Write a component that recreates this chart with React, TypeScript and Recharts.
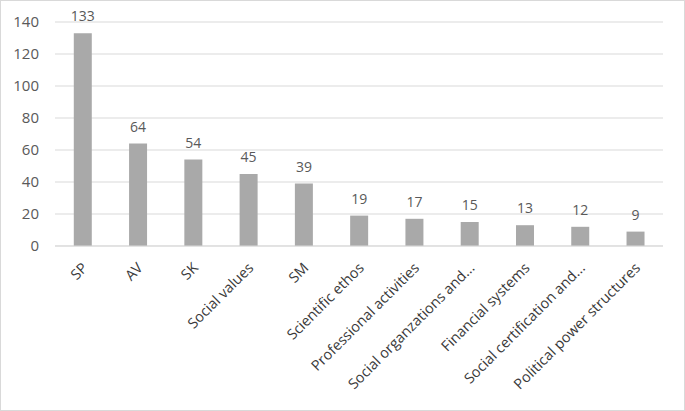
import { Bar, BarChart, CartesianGrid, LabelList, XAxis, YAxis } from "recharts"

const categories = [
  "SP",
  "AV",
  "SK",
  "Social values",
  "SM",
  "Scientific ethos",
  "Professional activities",
  "Social organzations and...",
  "Financial systems",
  "Social certification and...",
  "Political power structures"
]
const counts = [133, 64, 54, 45, 39, 19, 17, 15, 13, 12, 9]
const yTicks = [0, 20, 40, 60, 80, 100, 120, 140]

const data = categories.map((name, i) => ({ name, value: counts[i] }))

const FONT = "'Open Sans', sans-serif"

function AngledTick({ x, y, payload }: any) {
  return (
    <g transform={`translate(${x + 3},${y + 12})`}>
      <text
        x={0}
        y={0}
        dy={4}
        textAnchor="end"
        transform="rotate(-45)"
        fill="#3a3a3a"
        fontSize={14.5}
        fontFamily={FONT}
      >
        {payload.value}
      </text>
    </g>
  )
}

export default function App() {
  return (
    <div
      style={{
        position: "absolute",
        left: 0,
        top: 0,
        width: 685,
        height: 411,
        boxSizing: "border-box",
        border: "1px solid #d9d9d9",
        background: "#fff"
      }}
    >
      <BarChart
        width={683}
        height={409}
        data={data}
        margin={{ top: 21, right: 21, left: 0, bottom: 0 }}
        barCategoryGap="34%"
      >
        <CartesianGrid vertical={false} stroke="#d9d9d9" />
        <XAxis
          dataKey="name"
          interval={0}
          height={164}
          axisLine={{ stroke: "#d9d9d9" }}
          tickLine={false}
          tick={<AngledTick />}
        />
        <YAxis
          width={54}
          domain={[0, 140]}
          ticks={yTicks}
          axisLine={false}
          tickLine={false}
          tickMargin={10}
          tick={{ fill: "#595959", fontSize: 15, fontFamily: FONT }}
        />
        <Bar dataKey="value" fill="#a9a9a9" isAnimationActive={false}>
          <LabelList
            dataKey="value"
            position="top"
            offset={12}
            fill="#595959"
            fontSize={14}
            fontFamily={FONT}
          />
        </Bar>
      </BarChart>
    </div>
  )
}
